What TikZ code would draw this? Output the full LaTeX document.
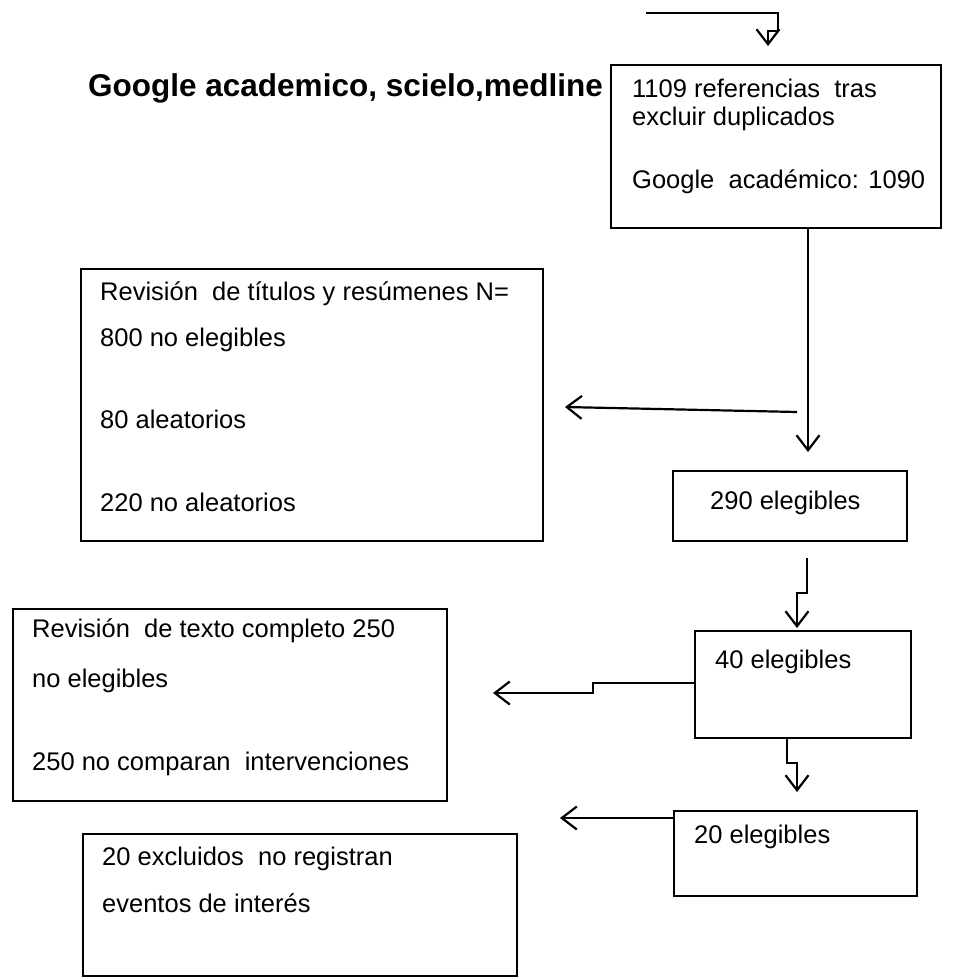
\documentclass[tikz,border=0pt]{standalone}
\usepackage{fontspec}
\setmainfont{Liberation Sans}
\usetikzlibrary{arrows.meta,calc}
\begin{document}
\begin{tikzpicture}[x=1pt,y=-1pt,
  box/.style={draw, line width=2pt, anchor=north west, inner sep=0pt},
  txt/.style={anchor=base west, inner sep=0pt, font=\fontsize{25.5}{30}\selectfont},
  ttl/.style={anchor=base west, inner sep=0pt, font=\fontsize{31.5}{36}\selectfont\bfseries},
  arr/.style={line width=2.2pt, -{Straight Barb[length=15pt,width=23pt,line width=2.2pt]}}]
\useasboundingbox (0,0) rectangle (956,977);
% boxes
\node[box, minimum width=330pt, minimum height=163pt] (b1) at (610,64) {};
\node[box, minimum width=462pt, minimum height=272pt] (b2) at (80,268) {};
\node[box, minimum width=234pt, minimum height=70pt] (b3) at (672,470) {};
\node[box, minimum width=434pt, minimum height=192pt] (b4) at (12,608) {};
\node[box, minimum width=216pt, minimum height=107pt] (b5) at (694,630) {};
\node[box, minimum width=243pt, minimum height=85pt] (b6) at (673,810) {};
\node[box, minimum width=434pt, minimum height=142pt] (b7) at (82,833) {};
% texts
\node[ttl] (title) at (88,96) {Google academico, scielo,medline};
\node[txt] (t1a) at (632,97) {1109 referencias\ \ tras};
\node[txt] (t1b) at (632,125) {excluir duplicados};
\node[txt] (t1c) at (632,188) {Google\ \ académico: 1090};
\node[txt] (t2a) at (100,300) {Revisión\ \ de títulos y resúmenes\ N=};
\node[txt] (t2b) at (100,346) {800 no elegibles};
\node[txt] (t2c) at (100,428) {80 aleatorios};
\node[txt] (t2d) at (100,511) {220 no aleatorios};
\node[txt] (t3) at (710,509) {290 elegibles};
\node[txt] (t4a) at (32,637) {Revisión\ \ de texto completo 250};
\node[txt] (t4b) at (32,687) {no elegibles};
\node[txt] (t4c) at (32,770) {250 no comparan\ \ intervenciones};
\node[txt] (t5) at (715,668) {40 elegibles};
\node[txt] (t6) at (694,843) {20 elegibles};
\node[txt] (t7a) at (102,865) {20 excluidos\ \ no registran};
\node[txt] (t7b) at (102,912) {eventos\ de interés};
% connectors
\coordinate (s0) at (646,13);
\coordinate (s0e) at (768,46);
\draw[arr] (s0) -- (778,13) -- (778,31) -- (768,31) -- (s0e);
\coordinate (m1) at (b1.south -| 808,0);
\coordinate (m1e) at (808,452);
\draw[arr] (m1) -- (m1e);
\coordinate (h1) at (797,412);
\coordinate (h1e) at (565,407);
\draw[arr] (h1) -- (h1e);
\coordinate (j1) at (807,558);
\coordinate (j1e) at (797,628);
\draw[arr] (j1) -- (807,593) -- (797,593) -- (j1e);
\coordinate (j2) at (b5.west |- 0,683);
\coordinate (j2e) at (493,693);
\draw[arr] (j2) -- (593,683) -- (593,693) -- (j2e);
\coordinate (j3) at (787,737);
\coordinate (j3e) at (797,792);
\draw[arr] (j3) -- (787,763) -- (797,763) -- (j3e);
\coordinate (j4) at (b6.west |- 0,818);
\coordinate (j4e) at (560,818);
\draw[arr] (j4) -- (j4e);
\end{tikzpicture}
\end{document}
